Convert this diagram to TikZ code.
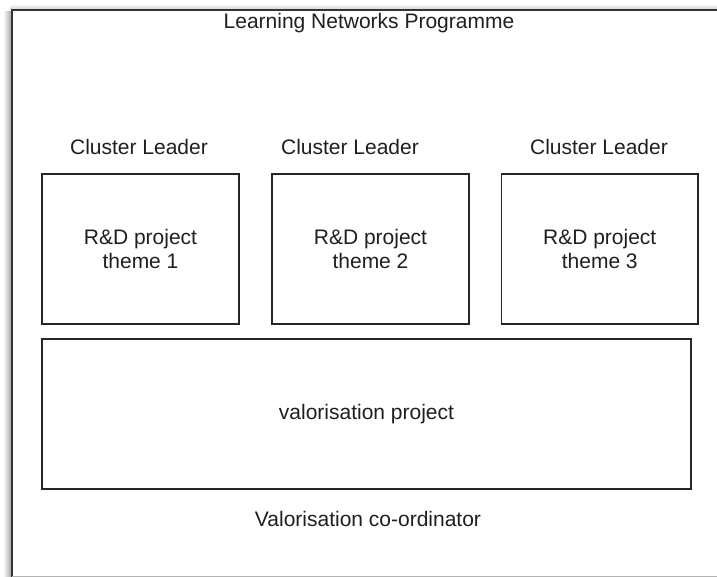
\documentclass[tikz,border=0pt]{standalone}
\usepackage{fontspec}
\setmainfont{Liberation Sans}
\begin{document}
\begin{tikzpicture}[x=1pt,y=-1pt,
  every node/.style={font=\fontsize{21}{24}\selectfont, text=black!88},
  projbox/.style={draw=black!85, line width=1.3pt, rectangle, align=center, inner sep=0pt},
  lbl/.style={anchor=base, inner sep=0pt}]
\useasboundingbox (0,0) rectangle (717,577);
\fill[white] (0,0) rectangle (717,577);
% outer frame shadow
\shade[left color=white, right color=black!35] (3,12) rectangle (11.5,577);
\shade[top color=white, bottom color=black!18] (10,4) rectangle (717,9.5);
% outer frame
\fill[white] (12,10) rectangle (717,576);
\draw[black!80, line width=1.4pt] (12,577) -- (12,10) -- (718,10);
\draw[black!30, line width=1pt] (12,576) -- (718,576);
% title
\node[lbl] (title) at (369,29) {Learning Networks Programme};
% cluster leaders
\node[lbl] (cl1) at (139,155) {Cluster Leader};
\node[lbl] (cl2) at (350,155) {Cluster Leader};
\node[lbl] (cl3) at (599,155) {Cluster Leader};
% project boxes
\node[projbox, minimum width=197pt, minimum height=150pt] (p1) at (140.5,249) {R\&D project\\theme 1};
\node[projbox, minimum width=197pt, minimum height=150pt] (p2) at (370.5,249) {R\&D project\\theme 2};
\node[projbox, minimum width=196.5pt, minimum height=150pt] (p3) at (599.75,249) {R\&D project\\theme 3};
\node[projbox, minimum width=649pt, minimum height=150pt] (val) at (366.5,414) {valorisation project};
\node[lbl] (coord) at (368,526) {Valorisation co-ordinator};
\end{tikzpicture}
\end{document}
